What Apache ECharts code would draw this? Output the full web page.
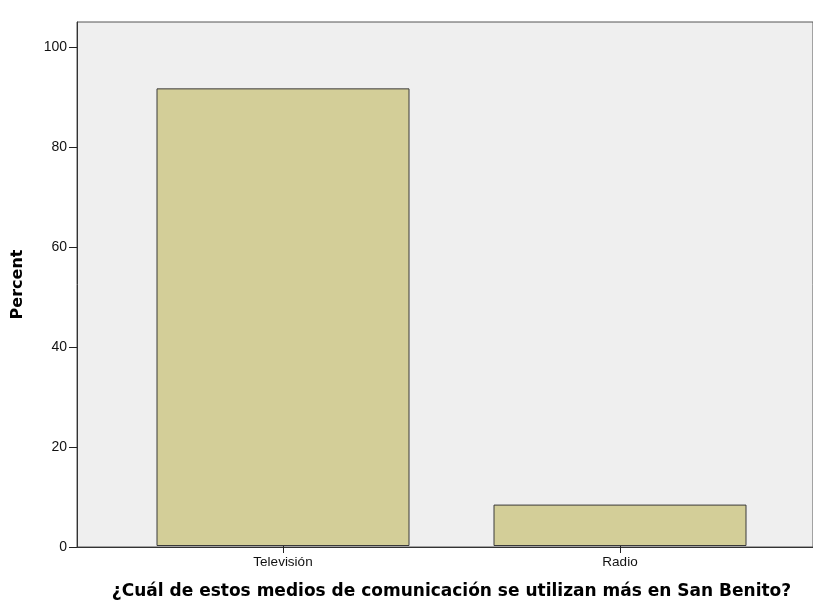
<!DOCTYPE html>
<html><head><meta charset="utf-8">
<script src="https://cdn.jsdelivr.net/npm/echarts@6/dist/echarts.min.js"></script>
<style>html,body{margin:0;padding:0;background:#fff}#c{width:813px;height:605px}</style>
</head><body><div id="c"></div>
<script>
const categories = ["Televisión", "Radio"];
const percentValues = [91.7, 8.3];
const yTicks = [0, 20, 40, 60, 80, 100];
const xTitle = "¿Cuál de estos medios de comunicación se utilizan más en San Benito?";
const yTitle = "Percent";

const chart = echarts.init(document.getElementById('c'), null, {renderer: 'canvas'});
const font = "'Liberation Sans', Arial, sans-serif";
const boldFont = "'DejaVu Sans', Verdana, sans-serif";
chart.setOption({
  animation: false,
  textStyle: {fontFamily: font},
  grid: [
    {left: 77, right: -6, top: 22, bottom: 58, show: true, backgroundColor: '#efefef', borderColor: '#555', borderWidth: 1},
    {left: 114.5, right: 24.5, top: 22, bottom: 58}
  ],
  xAxis: [
    {gridIndex: 0, type: 'value', min: 0, max: 1, axisLine: {show: true, lineStyle: {color: '#333'}}, axisTick: {show: false}, axisLabel: {show: false}, splitLine: {show: false}},
    {gridIndex: 1, type: 'category', data: categories, axisLine: {show: false},
     axisTick: {show: true, alignWithLabel: true, length: 7, lineStyle: {color: '#222'}},
     axisLabel: {color: '#111', fontSize: 13.5, margin: 9, fontFamily: font},
     name: xTitle, nameLocation: 'middle', nameGap: 37,
     nameTextStyle: {fontSize: 17, fontWeight: 'bold', color: '#000', fontFamily: boldFont}}
  ],
  yAxis: [
    {gridIndex: 0, type: 'value', min: 0, max: 105, interval: 20,
     axisLine: {show: true, lineStyle: {color: '#333'}},
     axisTick: {show: true, length: 8, lineStyle: {color: '#222'}, customValues: yTicks},
     axisLabel: {color: '#111', fontSize: 14, margin: 10, fontFamily: font, customValues: yTicks},
     splitLine: {show: false},
     name: yTitle, nameLocation: 'middle', nameGap: 51, nameRotate: 90,
     nameTextStyle: {fontSize: 16, fontWeight: 'bold', color: '#000', fontFamily: boldFont}},
    {gridIndex: 1, type: 'value', min: 0, max: 105, show: false, splitLine: {show: false}}
  ],
  series: [{
    type: 'bar', xAxisIndex: 1, yAxisIndex: 1, data: percentValues,
    barWidth: 253,
    itemStyle: {color: '#d3ce98', borderColor: '#3a3a3a', borderWidth: 1}
  }]
});
</script></body></html>
